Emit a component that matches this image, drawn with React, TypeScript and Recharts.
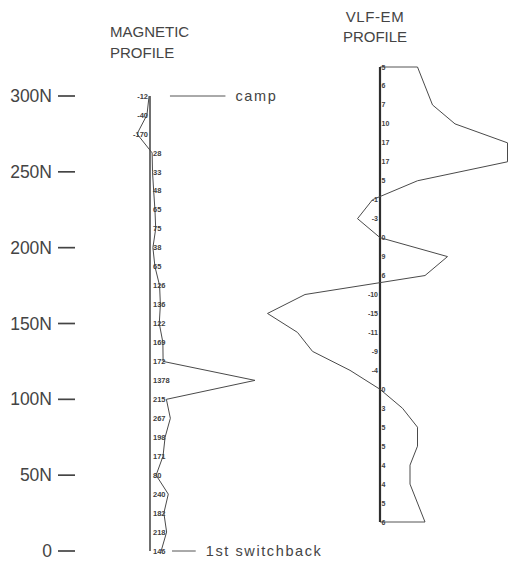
import React from 'react';
import { LineChart, Line, XAxis, YAxis, ReferenceLine, LabelList } from 'recharts';

// Survey stations along the line, metres north of the 1st switchback
const stations = [
  300, 287.5, 275, 262.5, 250, 237.5, 225, 212.5, 200, 187.5, 175, 162.5, 150,
  137.5, 125, 112.5, 100, 87.5, 75, 62.5, 50, 37.5, 25, 12.5, 0,
];

// Magnetometer readings at each station (gammas above base)
const magneticReadings = [
  -12, -40, -170, 28, 33, 48, 65, 75, 38, 65, 126, 136, 122, 169, 172, 1378,
  215, 267, 198, 171, 80, 240, 182, 218, 146,
];

// VLF-EM in-phase readings at each station (%)
const vlfReadings = [
  5, 6, 7, 10, 17, 17, 5, -1, -3, 0, 9, 6, -10, -15, -11, -9, -4, 0, 3, 5, 5,
  4, 4, 5, 6,
];

const stationTicks = [0, 50, 100, 150, 200, 250, 300];
const stationTickLabels = ['0', '50N', '100N', '150N', '200N', '250N', '300N'];

const callouts = [
  { station: 300, text: 'camp' },
  { station: 0, text: '1st switchback' },
];

const magData = stations.map((station, i) => ({ station, mag: magneticReadings[i], base: 0 }));
const vlfData = stations.map((station, i) => ({ station, vlf: vlfReadings[i], base: 0 }));

const FONT = '"Liberation Sans", Arial, Helvetica, sans-serif';
const INK = '#444';

const renderStationTick = (props: any) => {
  const { y, payload } = props;
  const label = stationTickLabels[stationTicks.indexOf(payload.value)];
  return (
    <g>
      <text x={52} y={y} dy={6} textAnchor="end" fontSize={17.5} fontFamily={FONT} fill={INK}>
        {label}
      </text>
      <line x1={58} x2={75} y1={y} y2={y} stroke={INK} strokeWidth={1.7} />
    </g>
  );
};

const pointOf = (props: any) => {
  const vb = props.viewBox || {};
  const x = props.x ?? vb.x;
  const y = props.y ?? vb.y;
  return { x: Number(x), y: Number(y) };
};

const makeValueLabel = (size: number, padRight: number, padLeft: number) => (props: any) => {
  const { x, y } = pointOf(props);
  const v = Number(props.value);
  const neg = v < 0;
  return (
    <text
      x={neg ? x - padLeft : x + padRight}
      y={y}
      dy={size * 0.36}
      textAnchor={neg ? 'end' : 'start'}
      fontSize={size}
      fontFamily={FONT}
      fontWeight="bold"
      fill="#404040"
    >
      {v}
    </text>
  );
};

const renderMagLabel = makeValueLabel(7.5, 3, 2);
const renderVlfLabel = makeValueLabel(7, 1.5, 2);

const makeCallout = (text: string) => (props: any) => {
  const vb = props.viewBox || {};
  const right = vb.x2 ?? (Number(vb.x) + Number(vb.width || 0));
  const y = vb.y1 ?? vb.y;
  return (
    <text x={right + 10} y={Number(y)} dy={5} fontSize={14.5} fontFamily={FONT} fill={INK} letterSpacing={1.6}>
      {text}
    </text>
  );
};

// leader extents, in magnetic-axis units
const leaderSpans: Record<string, [number, number]> = {
  camp: [262, 990],
  '1st switchback': [289, 600],
};

const layer: React.CSSProperties = { position: 'absolute', left: 0, top: 0 };

export default function App() {
  return (
    <div style={{ position: 'absolute', left: 0, top: 0, width: 508, height: 564, background: '#fff', overflow: 'hidden' }}>
      <svg width={508} height={564} style={layer}>
        <g fontFamily={FONT} fill={INK} fontSize={15}>
          <text x={110} y={37}>MAGNETIC</text>
          <text x={110} y={58}>PROFILE</text>
          <text x={375} y={22} textAnchor="middle" letterSpacing={0.6}>VLF-EM</text>
          <text x={375} y={42} textAnchor="middle">PROFILE</text>
        </g>
      </svg>

      <div style={layer}>
        <LineChart
          layout="vertical"
          width={508}
          height={564}
          data={magData}
          margin={{ top: 96, right: 251.32, bottom: 13, left: 19.52 }}
        >
          <XAxis type="number" domain={[-400, 1400]} hide />
          <YAxis
            type="number"
            dataKey="station"
            domain={[0, 300]}
            reversed
            ticks={stationTicks}
            interval={0}
            width={100}
            axisLine={false}
            tickLine={false}
            tick={renderStationTick}
          />
          {callouts.map((c) => (
            <ReferenceLine
              key={c.text}
              segment={[
                { x: leaderSpans[c.text][0], y: c.station },
                { x: leaderSpans[c.text][1], y: c.station },
              ]}
              stroke="#555"
              strokeWidth={1}
              label={makeCallout(c.text)}
            />
          ))}
          <Line dataKey="base" stroke="#333" strokeWidth={1.4} dot={false} isAnimationActive={false}>
            <LabelList dataKey="mag" content={renderMagLabel} />
          </Line>
          <Line dataKey="mag" stroke="#4a4a4a" strokeWidth={1} dot={false} isAnimationActive={false} />
        </LineChart>
      </div>

      <div style={layer}>
        <LineChart
          layout="vertical"
          width={508}
          height={564}
          data={vlfData}
          margin={{ top: 67, right: 0.5, bottom: 42, left: 230 }}
        >
          <XAxis type="number" domain={[-20, 17]} hide />
          <YAxis type="number" dataKey="station" domain={[0, 300]} reversed hide />
          <ReferenceLine
            segment={[{ x: 0, y: stations[0] }, { x: vlfReadings[0], y: stations[0] }]}
            stroke="#555"
            strokeWidth={1}
          />
          <ReferenceLine
            segment={[
              { x: 0, y: stations[stations.length - 1] },
              { x: vlfReadings[vlfReadings.length - 1], y: stations[stations.length - 1] },
            ]}
            stroke="#555"
            strokeWidth={1}
          />
          <Line dataKey="base" stroke="#2e2e2e" strokeWidth={2.2} dot={false} isAnimationActive={false}>
            <LabelList dataKey="vlf" content={renderVlfLabel} />
          </Line>
          <Line dataKey="vlf" stroke="#4a4a4a" strokeWidth={1} dot={false} isAnimationActive={false} />
        </LineChart>
      </div>
    </div>
  );
}
